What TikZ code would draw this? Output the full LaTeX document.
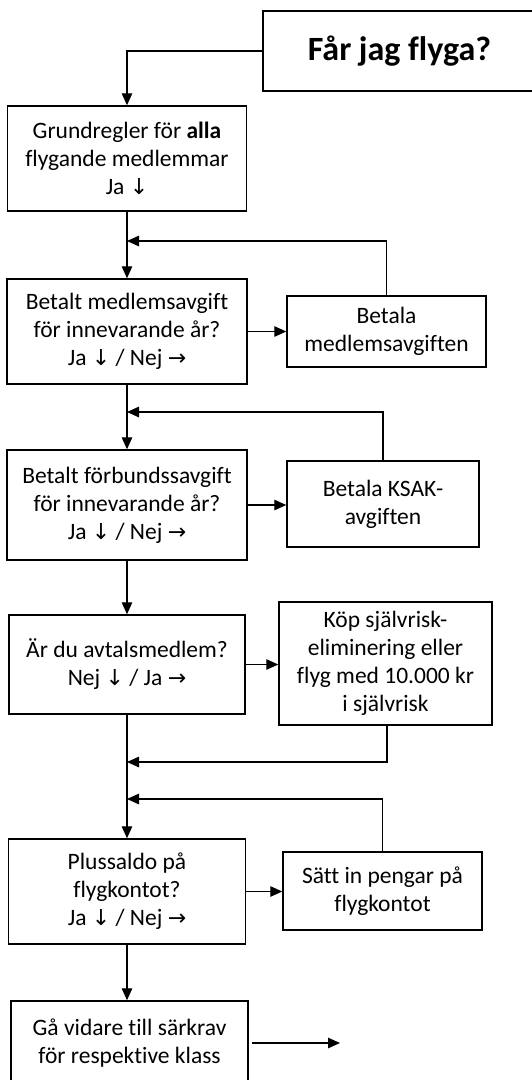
\documentclass[tikz,border=0pt]{standalone}
\usepackage{fontspec}
\setmainfont{Carlito}[Ligatures=NoCommon]
\newfontfamily\arrfont{DejaVu Sans}
\usetikzlibrary{arrows.meta}
\newcommand{\dn}{{\arrfont\fontsize{22}{28}\selectfont ↓}}
\newcommand{\rt}{{\arrfont\fontsize{22}{28}\selectfont →}}
\tikzset{
  box/.style={draw=black, line width=1.5pt, align=center, inner sep=0pt,
    font=\fontsize{23.5}{28}\selectfont},
  conn/.style={line width=1.3pt, -{Triangle[length=12pt,width=10.5pt]}},
  plain/.style={line width=1.3pt}
}
\begin{document}
\begin{tikzpicture}[x=1pt,y=-1pt]
\useasboundingbox (0,0) rectangle (532,1080);
\clip (0,0) rectangle (532,1080);
\node[box, minimum width=273pt, minimum height=80pt, font=\fontsize{34}{40}\selectfont\bfseries] (title) at (399.5,51) {Får jag flyga?};
\node[box, minimum width=239pt, minimum height=105pt] (b1) at (127,158.5) {Grundregler för \textbf{alla}\\flygande medlemmar\\Ja \dn};
\node[box, minimum width=240pt, minimum height=105pt] (b2) at (127,331.5) {Betalt medlemsavgift\\för innevarande år?\\Ja \dn{} / Nej \rt};
\node[box, minimum width=199pt, minimum height=71pt] (r2) at (386.5,331.5) {Betala\\medlemsavgiften};
\node[box, minimum width=240pt, minimum height=110pt] (b3) at (127,505) {Betalt förbundssavgift\\för innevarande år?\\Ja \dn{} / Nej \rt};
\node[box, minimum width=192pt, minimum height=86pt] (r3) at (383,504) {Betala KSAK-\\avgiften};
\node[box, minimum width=236pt, minimum height=99pt] (b4) at (127,664.5) {Är du avtalsmedlem?\\Nej \dn{} / Ja \rt};
\node[box, minimum width=213pt, minimum height=123pt] (r4) at (385.5,663.5) {Köp självrisk-\\eliminering eller\\flyg med 10.000 kr\\i självrisk};
\node[box, minimum width=237pt, minimum height=105pt] (b5) at (127,891.5) {Plussaldo på\\flygkontot?\\Ja \dn{} / Nej \rt};
\node[box, minimum width=199pt, minimum height=78pt] (r5) at (382.5,891) {Sätt in pengar på\\flygkontot};
\node[box, minimum width=237pt, minimum height=84pt] (b6) at (129.5,1043) {Gå vidare till särkrav\\för respektive klass};
\coordinate (j1) at (127,241);
\coordinate (j2) at (127,412);
\coordinate (j3) at (127,762);
\coordinate (j4) at (127,799);
\coordinate (fin) at (340,1043);
\draw[conn] (title.west) -| (b1.north);
\draw[conn] (b1.south) -- (b2.north);
\draw[conn] (b2.east) -- (r2.west);
\draw[conn] (r2.north) |- (j1);
\draw[conn] (b2.south) -- (b3.north);
\draw[conn] (r3.north) |- (j2);
\draw[conn] (b3.east) -- (r3.west |- b3.east);
\draw[conn] (b3.south) -- (b4.north);
\draw[conn] (b4.east) -- (r4.west |- b4.east);
\draw[conn] ([xshift=1.5pt]r4.south) |- (j3);
\draw[plain] (b4.south) -- (j4);
\draw[conn] (j4) -- (b5.north);
\draw[conn] (r5.north) |- (j4);
\draw[conn] (b5.east) -- (r5.west |- b5.east);
\draw[conn] (b5.south) -- (b5.south |- b6.north);
\draw[conn] ([xshift=3pt]b6.east) -- (fin);
\end{tikzpicture}
\end{document}
